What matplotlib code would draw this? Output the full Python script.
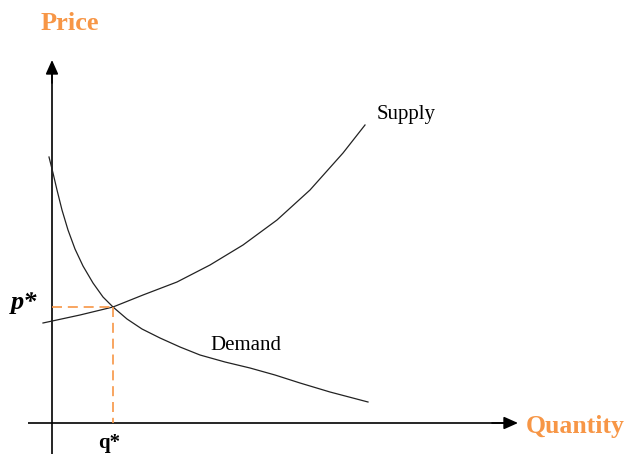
import numpy as np
import matplotlib.pyplot as plt

plt.rcParams['font.family'] = ['Liberation Serif', 'DejaVu Serif']

# supply / demand curves, quantity vs price (origin at the axes crossing)
supply_q = [-9, 28, 61, 91, 125, 158, 191, 225, 258, 291, 313]
supply_p = [100, 108, 116, 128, 141, 158, 178, 203, 233, 270, 298]

demand_q = [-3, 1, 5, 10, 16, 23, 31, 41, 51, 61, 75, 90, 108, 128, 148,
            173, 198, 223, 248, 278, 316]
demand_p = [266, 250, 233, 213, 193, 174, 157, 140, 126, 116, 104, 94, 85, 76, 68,
            61, 55, 48, 40, 31, 21]

q_star = 61
p_star = 116

orange = '#f79646'

fig = plt.figure(figsize=(6.27, 4.54), dpi=100)
ax = fig.add_axes([0, 0, 1, 1])
ax.set_xlim(-52, 575)
ax.set_ylim(-31, 423)
ax.axis('off')

# axes with arrow heads
ax.plot([-24, 462], [0, 0], color='black', lw=1.2, solid_capstyle='butt')
ax.plot([0, 0], [-31, 350], color='black', lw=1.2, solid_capstyle='butt')
arrow = dict(arrowstyle='-|>,head_length=0.85,head_width=0.38', color='black',
             lw=1.2, shrinkA=0, shrinkB=0)
ax.annotate('', xy=(466, 0), xytext=(440, 0), arrowprops=arrow)
ax.annotate('', xy=(0, 363), xytext=(0, 340), arrowprops=arrow)

# curves
ax.plot(supply_q, supply_p, color='#222222', lw=0.9, solid_joinstyle='round')
ax.plot(demand_q, demand_p, color='#222222', lw=0.9, solid_joinstyle='round')

# equilibrium guides
ax.plot([0, q_star], [p_star, p_star], color=orange, lw=1.2, ls=(0, (6, 3.5)))
ax.plot([q_star, q_star], [p_star, 0], color=orange, lw=1.2, ls=(0, (6, 3.5)))

# labels
ax.text(18, 399, 'Price', color=orange, fontsize=19, fontweight='bold',
        ha='center', va='center')
ax.text(474, -4, 'Quantity', color=orange, fontsize=18.5, fontweight='bold',
        ha='left', va='center')
ax.text(325, 308, 'Supply', fontsize=15, ha='left', va='center')
ax.text(158, 77, 'Demand', fontsize=15, ha='left', va='center')
ax.text(-28, 120, 'p*', fontsize=19, fontweight='bold', fontstyle='italic',
        ha='center', va='center')
ax.text(q_star - 4, -20, 'q*', fontsize=15, fontweight='bold',
        ha='center', va='center')

fig.savefig('out.png', dpi=100)
